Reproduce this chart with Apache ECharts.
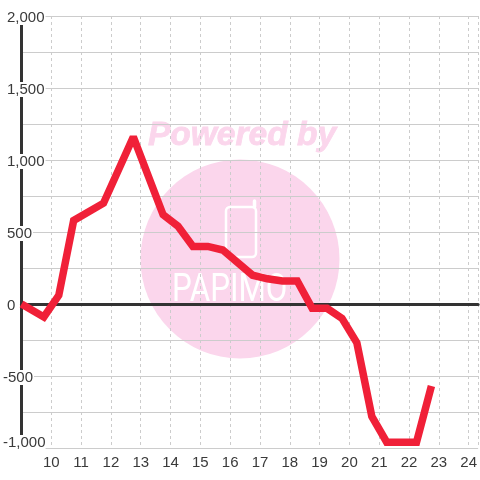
<!DOCTYPE html>
<html>
<head>
<meta charset="utf-8">
<style>html,body{margin:0;padding:0;background:#fff}#c{width:480px;height:480px}</style>
<script src="https://cdn.jsdelivr.net/npm/echarts@6/dist/echarts.min.js"></script>
</head>
<body>
<div id="c"></div>
<script>
const hours = [9, 9.75, 10.25, 10.75, 11.75, 12.75, 13.75, 14.25, 14.75, 15.25, 15.75, 16.75, 17.25, 17.75, 18.25, 18.75, 19.25, 19.75, 20.25, 20.75, 21.25, 22.25, 22.75];
const values = [0, -90, 60, 580, 700, 1160, 620, 540, 400, 400, 375, 200, 175, 160, 160, -30, -30, -100, -270, -780, -960, -960, -570];

const FONT = '"Liberation Sans", Arial, sans-serif';
const TXT = '#3a3a3a';
const GRID = '#cccccc';
const DARK = '#333333';
const PINK = '#fbd6ec';
const RED = '#f02038';

const chart = echarts.init(document.getElementById('c'), null, {renderer: 'canvas'});
chart.setOption({
  animation: false,
  backgroundColor: '#fff',
  grid: {left: 20.5, right: 0, top: 16, bottom: 32, containLabel: false},
  xAxis: [{
    type: 'value', min: 9, max: 24.317, interval: 1,
    axisLine: {show: false, onZero: false},
    axisTick: {show: false},
    axisLabel: {color: TXT, fontSize: 15, fontFamily: FONT, margin: 7, showMinLabel: false, showMaxLabel: false,
      formatter: v => String(v)},
    splitLine: {show: true, lineStyle: {color: GRID, width: 1, type: [3, 3]}}
  }, {
    type: 'value', min: 9, max: 24.317, interval: 1, position: 'bottom',
    axisLine: {show: true, onZero: true, lineStyle: {color: DARK, width: 3}},
    axisTick: {show: false}, axisLabel: {show: false}, splitLine: {show: false}
  }],
  yAxis: {
    type: 'value', min: -1000, max: 2000, interval: 500,
    axisLine: {show: true, onZero: false, lineStyle: {color: DARK, width: 3}},
    axisTick: {show: false},
    minorTick: {show: false, splitNumber: 2},
    minorSplitLine: {show: true, lineStyle: {color: GRID, width: 1}},
    splitLine: {show: true, lineStyle: {color: GRID, width: 1}},
    axisLabel: {
      show: true, margin: 18.5, align: 'left',
      padding: [3, 0, 0, 0],
      formatter: v => {
        const s = v.toLocaleString('en-US');
        if (v === -1000) return '{b|' + s + '}';
        return v < 0 ? '{n|' + s + '}' : '{p|' + s + '}';
      },
      rich: {
        n: {color: TXT, fontSize: 15, lineHeight: 13, fontFamily: FONT, backgroundColor: '#fff', padding: [0, 1, 0, 0]},
        b: {color: TXT, fontSize: 15, lineHeight: 13, fontFamily: FONT, backgroundColor: '#fff', padding: [0, 0, 14, 0]},
        p: {color: TXT, fontSize: 15, lineHeight: 13, fontFamily: FONT, backgroundColor: '#fff', padding: [0, 1, 0, 4]}
      }
    }
  },
  graphic: [
    {type: 'circle', z: -10, shape: {cx: 240, cy: 259, r: 99.5}, style: {fill: PINK}, silent: true},
    {type: 'text', z: -10, x: 148, y: 119, style: {text: 'Powered by', fill: PINK, stroke: PINK, lineWidth: 0.8, font: 'italic bold 33.5px "Liberation Sans"'}, silent: true},
    {type: 'rect', z: -9, shape: {x: 226, y: 207, width: 30, height: 50, r: 4}, style: {fill: 'none', stroke: '#fff', lineWidth: 2.5}, silent: true},
    {type: 'polyline', z: -9, shape: {points: [[254.5, 207], [254.5, 201]]}, style: {stroke: '#fff', lineWidth: 3.5, lineCap: 'round'}, silent: true},
    {type: 'text', z: -9, x: 172, y: 272, scaleX: 1.12, scaleY: 1.4, style: {text: 'PAPIMO', fill: '#fff', font: '28px Roboto'}, silent: true}
  ],
  series: [{
    type: 'line', xAxisIndex: 0,
    data: hours.map((h, i) => [h, values[i]]),
    showSymbol: false, symbol: 'none', clip: false, z: 5,
    lineStyle: {color: RED, width: 7.5, join: 'miter', miterLimit: 2, cap: 'butt'}
  }]
});
</script>
</body>
</html>
